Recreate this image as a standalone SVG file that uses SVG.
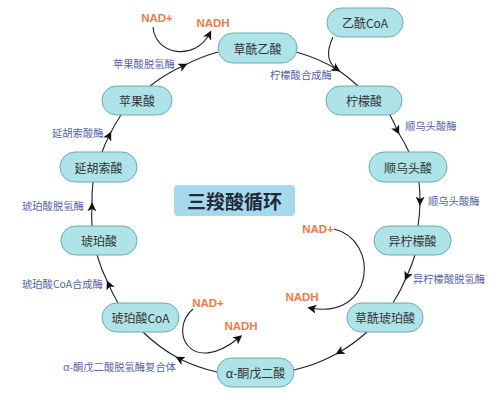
<svg xmlns="http://www.w3.org/2000/svg" width="500" height="416" viewBox="0 0 500 416">
<style>
.node rect{fill:#aee3e7;stroke:#6aaab2;stroke-width:1}
.node text{font-family:"Noto Sans CJK SC","Liberation Sans",sans-serif;font-size:12px;fill:#333;text-anchor:middle;dominant-baseline:central}
.enz{font-family:"Noto Sans CJK SC","Liberation Sans",sans-serif;font-size:10.3px;fill:#5563a6;dominant-baseline:central}
.nad{font-family:"Liberation Sans","Noto Sans CJK SC",sans-serif;font-size:11.5px;font-weight:bold;fill:#ee7a45;dominant-baseline:central;text-anchor:middle}
.c{fill:none;stroke:#222;stroke-width:1.1}
</style>
<defs>
<marker id="ah" viewBox="0 0 10 10" refX="7" refY="5" markerWidth="9" markerHeight="9" markerUnits="userSpaceOnUse" orient="auto"><path d="M0,0 L10,5 L0,10 L2.5,5 Z" fill="#111"/></marker>
</defs>
<rect width="500" height="416" fill="#fff"/>
<g id="connectors">
<path class="c" marker-mid="url(#ah)" d="M150,86 A164,164 0 0 1 185,65 A164,164 0 0 1 218,52"/>
<path class="c" marker-mid="url(#ah)" d="M296,52 A164,164 0 0 1 338,70 A164,164 0 0 1 358,86"/>
<path class="c" d="M333,37 Q322,60 338,70"/>
<path class="c" marker-mid="url(#ah)" d="M390,115 A164,164 0 0 1 398,132 A164,164 0 0 1 409,152"/>
<path class="c" marker-mid="url(#ah)" d="M419,182 A164,164 0 0 1 420,203 A164,164 0 0 1 418,226"/>
<path class="c" marker-mid="url(#ah)" d="M415,255 A164,164 0 0 1 406,278 A164,164 0 0 1 393,303"/>
<path class="c" marker-mid="url(#ah)" d="M367,332 A164,164 0 0 1 338,353 A164,164 0 0 1 294,370"/>
<path class="c" marker-mid="url(#ah)" d="M217,372 A164,164 0 0 1 178,358 A164,164 0 0 1 143,332"/>
<path class="c" marker-mid="url(#ah)" d="M118,303 A164,164 0 0 1 108,283 A164,164 0 0 1 97,255"/>
<path class="c" marker-mid="url(#ah)" d="M92,226 A164,164 0 0 1 92,205 A164,164 0 0 1 93,182"/>
<path class="c" marker-mid="url(#ah)" d="M102,152 A164,164 0 0 1 110,134 A164,164 0 0 1 121,115"/>
<path class="c" marker-end="url(#ah)" d="M153,27 C155,55 195,62 210,33"/>
<path class="c" marker-end="url(#ah)" d="M334,229 C380,240 375,320 310,308"/>
<path class="c" marker-end="url(#ah)" d="M193,309 C168,330 190,378 240,337"/>
</g>
<g id="title">
<rect x="174" y="185" width="121" height="31" rx="4" fill="#a6d8ee"/>
<text x="234.5" y="200.5" font-family="Noto Sans CJK SC, Liberation Sans, sans-serif" font-size="19" font-weight="bold" fill="#1e2a38" text-anchor="middle" dominant-baseline="central">三羧酸循环</text>
</g>
<g id="n-oaa" class="node"><rect x="218" y="33" width="79" height="30" rx="15"/><text x="257.5" y="48">草酰乙酸</text></g>
<g id="n-acoa" class="node"><rect x="327" y="8" width="76" height="29" rx="14.5"/><text x="365" y="22.5">乙酰CoA</text></g>
<g id="n-cit" class="node"><rect x="326" y="86" width="76" height="29" rx="14.5"/><text x="364" y="100.5">柠檬酸</text></g>
<g id="n-cis" class="node"><rect x="369" y="152" width="78" height="30" rx="15"/><text x="408" y="167">顺乌头酸</text></g>
<g id="n-iso" class="node"><rect x="374" y="226" width="77" height="29" rx="14.5"/><text x="412.5" y="240.5">异柠檬酸</text></g>
<g id="n-oxs" class="node"><rect x="347" y="303" width="76" height="29" rx="14.5"/><text x="385" y="317.5">草酰琥珀酸</text></g>
<g id="n-akg" class="node"><rect x="217" y="358" width="77" height="29" rx="14.5"/><text x="255.5" y="372.5">α-酮戊二酸</text></g>
<g id="n-scoa" class="node"><rect x="102" y="303" width="77" height="29" rx="14.5"/><text x="140.5" y="317.5">琥珀酸CoA</text></g>
<g id="n-suc" class="node"><rect x="61" y="226" width="76" height="29" rx="14.5"/><text x="99" y="240.5">琥珀酸</text></g>
<g id="n-fum" class="node"><rect x="60" y="152" width="77" height="30" rx="15"/><text x="98.5" y="167">延胡索酸</text></g>
<g id="n-mal" class="node"><rect x="102" y="86" width="70" height="29" rx="14.5"/><text x="137" y="100.5">苹果酸</text></g>
<g id="labels">
<text class="enz" x="113" y="63">苹果酸脱氢酶</text>
<text class="enz" x="270" y="74">柠檬酸合成酶</text>
<text class="enz" x="405" y="125">顺乌头酸酶</text>
<text class="enz" x="52" y="132">延胡索酸酶</text>
<text class="enz" x="22" y="205">琥珀酸脱氢酶</text>
<text class="enz" x="428" y="200">顺乌头酸酶</text>
<text class="enz" x="413" y="278">异柠檬酸脱氢酶</text>
<text class="enz" x="22" y="283">琥珀酸CoA合成酶</text>
<text class="enz" x="63" y="366">α-酮戊二酸脱氢酶复合体</text>
<text class="nad" x="157" y="18">NAD+</text>
<text class="nad" x="213" y="23">NADH</text>
<text class="nad" x="318" y="229">NAD+</text>
<text class="nad" x="302" y="297">NADH</text>
<text class="nad" x="208" y="303">NAD+</text>
<text class="nad" x="241" y="326">NADH</text>
</g>
</svg>
